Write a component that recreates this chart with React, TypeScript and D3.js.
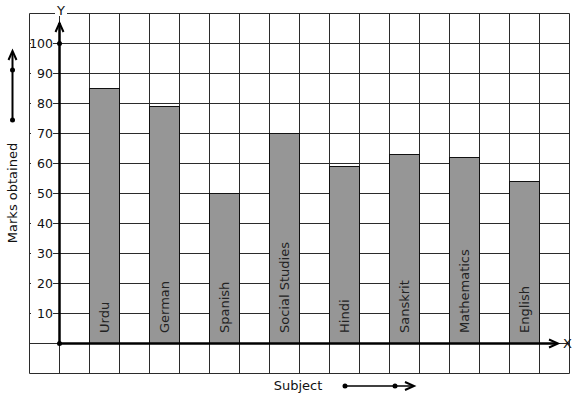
import * as d3 from "d3";

const subjects = [
  "Urdu",
  "German",
  "Spanish",
  "Social Studies",
  "Hindi",
  "Sanskrit",
  "Mathematics",
  "English",
];
const marks = [85, 79, 50, 70, 59, 63, 62, 54];
const yTicks = [10, 20, 30, 40, 50, 60, 70, 80, 90, 100];

const W = 577;
const H = 399;
const cell = 30;
const gridLeft = 29;
const gridTop = 13;
const cols = 18;
const rows = 12;

const App = () => {
  // y: 30px per 10 marks, origin at the x axis
  const y = d3.scaleLinear().domain([-10, 110]).range([373, 13]);
  const x = d3
    .scaleBand()
    .domain(subjects)
    .range([59, 569])
    .paddingInner(0.5)
    .paddingOuter(0.5);

  const x0 = 59;
  const y0 = y(0);
  const font = "DejaVu Sans, sans-serif";

  return (
    <svg
      width={W}
      height={H}
      style={{ position: "absolute", left: 0, top: 0 }}
      fontFamily={font}
    >
      <rect width={W} height={H} fill="#fff" />

      {/* grid */}
      <g stroke="#2b2b2b" strokeWidth={1}>
        {d3.range(cols + 1).map((i) => (
          <line
            key={"v" + i}
            x1={gridLeft + i * cell + 0.5}
            x2={gridLeft + i * cell + 0.5}
            y1={gridTop + 0.5}
            y2={gridTop + rows * cell + 0.5}
          />
        ))}
        {d3.range(rows + 1).map((i) => (
          <line
            key={"h" + i}
            x1={gridLeft + 0.5}
            x2={gridLeft + cols * cell + 0.5}
            y1={gridTop + i * cell + 0.5}
            y2={gridTop + i * cell + 0.5}
          />
        ))}
      </g>

      {/* bars */}
      {subjects.map((s, i) => (
        <g key={s}>
          <rect
            x={x(s)! + 0.5}
            y={y(marks[i]) + 0.5}
            width={x.bandwidth()}
            height={y0 - y(marks[i])}
            fill="#969696"
            stroke="#111"
            strokeWidth={1}
          />
          <text
            transform={`translate(${x(s)! + x.bandwidth() / 2 + 0.5},${y0 - 10}) rotate(-90)`}
            dominantBaseline="central"
            fontSize={13}
            fill="#222"
          >
            {s}
          </text>
        </g>
      ))}

      {/* y tick labels */}
      {yTicks.map((t) => (
        <g key={t}>
          <rect x={31} y={y(t) - 7} width={22} height={14} fill="#fff" />
          <text
            x={53}
            y={y(t) + 0.5}
            textAnchor="end"
            dominantBaseline="central"
            fontSize={12.5}
            fill="#111"
          >
            {t}
          </text>
        </g>
      ))}

      {/* axes */}
      <g stroke="#000" strokeWidth={2.5} fill="none">
        <line x1={x0 + 0.5} x2={x0 + 0.5} y1={y0 + 0.5} y2={23} />
        <polyline points={`${x0 - 3.5},${32} ${x0 + 0.5},${23} ${x0 + 4.5},${32}`} strokeWidth={2} />
        <line x1={x0} x2={557} y1={y0 + 0.5} y2={y0 + 0.5} />
        <polyline points={`${549},${y0 - 3.5} ${558},${y0 + 0.5} ${549},${y0 + 4.5}`} strokeWidth={2} />
      </g>
      <circle cx={x0 + 0.5} cy={y(100) + 0.5} r={2.5} fill="#000" />
      <circle cx={x0 + 0.5} cy={y0 + 0.5} r={2.5} fill="#000" />

      <rect x={55} y={3} width={12} height={13} fill="#fff" />
      <text x={61} y={10} textAnchor="middle" dominantBaseline="central" fontSize={13} fill="#111">
        Y
      </text>
      <text x={563} y={y0 + 0.5} dominantBaseline="central" fontSize={13} fill="#111">
        X
      </text>

      {/* y title with arrow */}
      <g stroke="#000" strokeWidth={2} fill="none">
        <line x1={12.5} x2={12.5} y1={120} y2={52} />
        <polyline points="8.5,60 12.5,51 16.5,60" />
      </g>
      <circle cx={12.5} cy={70} r={2.5} fill="#000" />
      <circle cx={12.5} cy={120} r={2.5} fill="#000" />
      <text
        transform="translate(12.5,193) rotate(-90)"
        textAnchor="middle"
        dominantBaseline="central"
        fontSize={13}
        fill="#111"
      >
        Marks obtained
      </text>

      {/* x title with arrow */}
      <text x={298} y={385} textAnchor="middle" dominantBaseline="central" fontSize={13} fill="#111">
        Subject
      </text>
      <g stroke="#000" strokeWidth={1.5} fill="none">
        <line x1={345} x2={413} y1={386} y2={386} />
        <polyline points="405,382 414,386 405,390" strokeWidth={2} />
      </g>
      <circle cx={345} cy={386} r={2.5} fill="#000" />
      <circle cx={395} cy={386} r={2.5} fill="#000" />
    </svg>
  );
};

export default App;
